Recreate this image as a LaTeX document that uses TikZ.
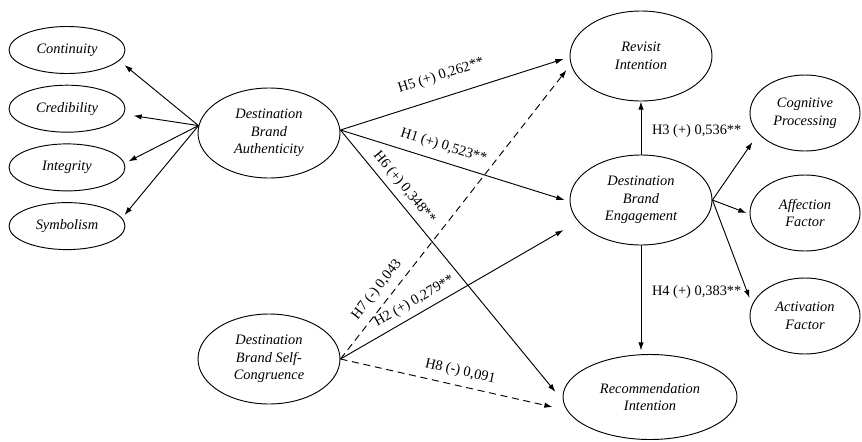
\documentclass[tikz,border=0pt]{standalone}
\usepackage{fontspec}
\setmainfont{Liberation Serif}
\usetikzlibrary{positioning, shapes.geometric, arrows.meta, calc}

\begin{document}
\begin{tikzpicture}
[
    x=0.03cm, y=-0.03cm,
    font=\rmfamily\fontsize{12.3}{15}\selectfont,
    % Construct nodes: A (authenticity), S (self-congruence),
    % E (engagement), V (revisit), R (recommendation)
    % Dimension nodes are named L-0 ... L-3 (left) and F-0 ... F-2 (right)
]

%=================================== Start ===================================
\tikzstyle{lv}  = [ellipse, draw, line width=0.8pt, align=center, inner sep=0pt,
                   font=\rmfamily\fontsize{12.3}{15}\selectfont\itshape]
\tikzstyle{dim} = [lv, minimum width=3.48cm, minimum height=1.41cm]
\tikzstyle{con} = [lv, minimum width=4.26cm, minimum height=2.7cm]
\tikzstyle{fac} = [lv, minimum width=3.3cm, minimum height=2.28cm]
\tikzstyle{arr} = [-{Latex[length=7pt, width=4.6pt]}, line width=0.8pt]
\tikzstyle{ns}  = [arr, dash pattern=on 6pt off 4pt]
\tikzstyle{lbl} = [sloped, inner sep=2pt]

\useasboundingbox (0,0) rectangle (862,441);
{
    % Draw constructs
    \node[con] (A) at (269,133) {Destination\\Brand\\Authenticity};
    \node[con] (S) at (269,359) {Destination\\Brand Self-\\Congruence};
    \node[con] (E) at (641,200) {Destination\\Brand\\Engagement};
    \node[con] (V) at (641,56)  {Revisit\\Intention};
    \node[lv, minimum width=5.22cm, minimum height=2.55cm]
          (R) at (650,397) {Recommendation\\Intention};

    % Draw dimensions
    \foreach \y / \txt in {0/Continuity, 1/Credibility, 2/Integrity, 3/Symbolism}
        \node[dim] (L-\y) at (67,{50+58.7*\y}) {\txt};
    \foreach \y / \yy / \txt in {0/113/Cognitive\\Processing,
                                 1/213/Affection\\Factor,
                                 2/316/Activation\\Factor}
        \node[fac] (F-\y) at (805,\yy) {\txt};

    % Connect dimensions
    \foreach \y / \dx / \dy in {0/-1/15, 1/8/7, 2/3/-6, 3/-1/-11}
        \draw[arr] (A.174) -- ($(L-\y.east)+(\dx,\dy)$);
    \foreach \y / \dx / \dy in {0/3/29, 1/-3/0, 2/0/-18}
        \draw[arr] (E.east) -- ($(F-\y.west)+(\dx,\dy)$);

    % Hypotheses
    \draw[arr] ($(A.east)+(0,-3)$) -- node[lbl, above=10pt, pos=.48] {H5 (+) 0,262**}
          ($(V.west)+(-6,3)$);
    \draw[arr] ($(A.east)+(0,-3)$) -- node[lbl, above=5pt, pos=.44] {H1 (+) 0,523**}
          ($(E.west)+(-5,0)$);
    \draw[arr] ($(A.east)+(0,-3)$) -- node[lbl, above=3pt, pos=.25] {H6 (+) 0,348**}
          ($(R.west)+(-7,-5)$);
    \draw[ns]  (S.east) -- node[lbl, above=4pt, pos=.21] {H7 (-) 0,043}
          ($(V.west)+(-3,14)$);
    \draw[arr] (S.east) -- node[lbl, above=3pt, pos=.36] {H2 (+) 0,279**}
          ($(E.west)+(-6,30)$);
    \draw[ns]  (S.east) -- node[lbl, above=4pt, pos=.55] {H8 (-) 0,091}
          ($(R.west)+(-10,10)$);
    \draw[arr] (E.north) -- node[right=7pt, pos=.45, inner sep=2pt] {H3 (+) 0,536**}
          (V.south);
    \draw[arr, shorten >=3pt] (E.south) -- node[right=7pt, pos=.43, inner sep=2pt] {H4 (+) 0,383**}
          (E.south |- R.north);
}
%==================================== END ====================================

\end{tikzpicture}
\end{document}
